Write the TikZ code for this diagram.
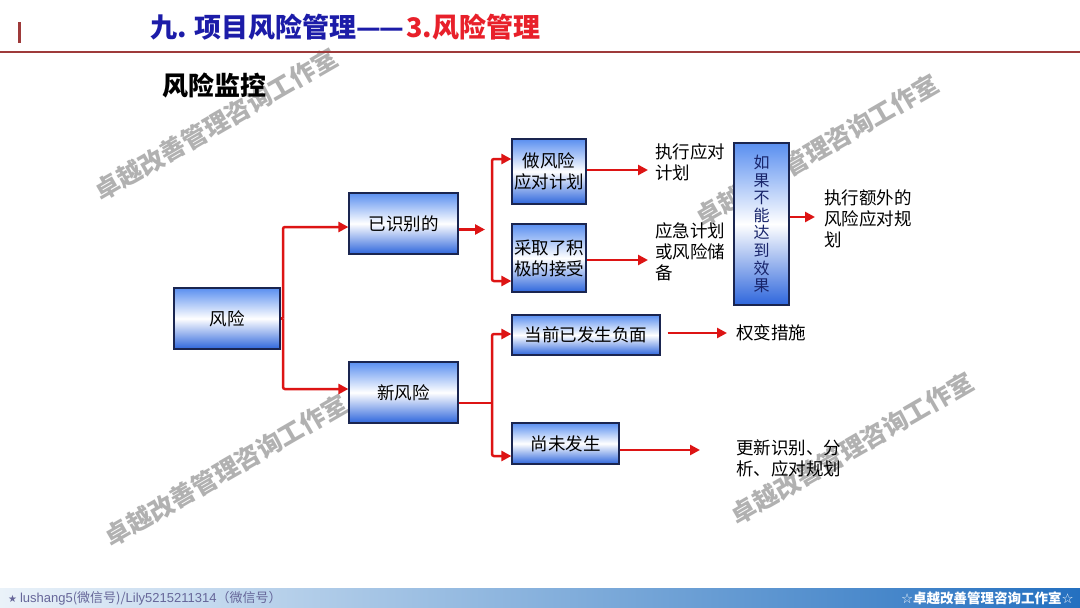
\documentclass[tikz,border=0pt]{standalone}
\usepackage{fontspec}
\setmainfont{Noto Sans CJK SC}
\newfontfamily\djv{DejaVu Sans}
\newfontfamily\lib{Liberation Sans}
\usetikzlibrary{arrows.meta}
\definecolor{tblue}{HTML}{1C1CA8}
\definecolor{tred}{HTML}{E8202A}
\definecolor{hdr}{HTML}{9E3A3A}
\definecolor{boxline}{HTML}{1A2550}
\definecolor{boxtop}{HTML}{5A8FF0}
\definecolor{boxbot}{HTML}{2E66DC}
\definecolor{arr}{HTML}{DD1414}
\definecolor{wm}{HTML}{A4A4A4}
\definecolor{footL}{HTML}{EAF2F9}
\definecolor{footR}{HTML}{2470C0}
\definecolor{navytext}{HTML}{18246A}
\tikzset{
  box/.style={draw=boxline, line width=1.2pt, top color=boxtop, bottom color=boxbot, middle color=white,
    font=\fontsize{17.5}{21}\selectfont, align=center, inner sep=0pt, text=black},
  plain/.style={font=\fontsize{17.5}{21}\selectfont, align=left, inner sep=0pt, anchor=west, text=black},
  rl/.style={draw=arr, line width=2.5pt, rounded corners=2pt},
  ar/.style={rl, -{Triangle[length=10pt,width=10pt]}},
  arb/.style={rl, {Triangle[length=10pt,width=10pt]}-{Triangle[length=10pt,width=10pt]}},
  wmark/.style={text=wm, font=\fontsize{25}{25}\bfseries, rotate=30, inner sep=0pt, opacity=0.85}
}
\begin{document}
\begin{tikzpicture}[x=1pt,y=-1pt]
\useasboundingbox (0,0) rectangle (1080,608);
\fill[white] (0,0) rectangle (1080,608);

% watermarks
\node[wmark] (w1) at (216,124) {卓越改善管理咨询工作室};
\node[wmark] (w2) at (817,150) {卓越改善管理咨询工作室};
\node[wmark] (w3) at (226,470) {卓越改善管理咨询工作室};
\node[wmark] (w4) at (852,448) {卓越改善管理咨询工作室};

% header
\fill[hdr] (18,22) rectangle (21,43);
\draw[hdr, line width=1.2pt] (0,52) -- (1080,52);
\node[anchor=west, inner sep=0pt, font=\fontsize{27}{30}\bfseries] (title) at (150,27)
  {\textcolor{tblue}{九. 项目风险管理—\kern-2pt—\kern2pt}\textcolor{tred}{3.风险管理}};
\node[anchor=west, inner sep=0pt, font=\fontsize{26}{30}\bfseries] (sub) at (162,86) {风险监控};

% boxes
\node[box, minimum width=106pt, minimum height=61pt] (fx) at (227,318.5) {风险};
\node[box, minimum width=109pt, minimum height=61pt] (ysb) at (403.5,223.5) {已识别的};
\node[box, minimum width=109pt, minimum height=61pt] (xfx) at (403.5,392.5) {新风险};
\node[box, minimum width=74pt, minimum height=65pt] (zfx) at (549,171.5) {做风险\\应对计划};
\node[box, minimum width=74pt, minimum height=68pt] (cq) at (549,258) {采取了积\\极的接受};
\node[box, minimum width=55pt, minimum height=162pt, text=navytext, font=\fontsize{16}{17.6}\selectfont] (rg) at (761.5,224)
  {如\\果\\不\\能\\达\\到\\效\\果};
\node[box, minimum width=148pt, minimum height=40pt] (dq) at (586,335) {当前已发生负面};
\node[box, minimum width=107pt, minimum height=41pt] (wf) at (565.5,443.5) {尚未发生};

% plain texts
\node[plain] (t1) at (655,162.5) {执行应对\\计划};
\node[plain] (t2) at (655,252) {应急计划\\或风险储\\备};
\node[plain] (t3) at (824,219) {执行额外的\\风险应对规\\划};
\node[plain] (t4) at (736,333) {权变措施};
\node[plain] (t5) at (736,458) {更新识别、分\\析、应对规划};

% connectors
\coordinate (j1) at (283,318.5);
\draw[rl] (fx.east) -- (j1);
\draw[ar] (j1) |- ([yshift=-3.5pt]ysb.west);
\draw[ar] (j1) |- ([yshift=3.5pt]xfx.west);

\coordinate (a1) at (485,229.5);
\draw[ar] (ysb.east |- a1) -- (a1);
\coordinate (j2t) at (492,159);
\coordinate (j2b) at (492,281);
\draw[arb] (zfx.west |- j2t) -- (j2t) -- (j2b) -- (cq.west |- j2b);

\coordinate (j3) at (492,403);
\coordinate (j3t) at (492,334);
\coordinate (j3b) at (492,456);
\draw[rl] (xfx.east |- j3) -- (j3);
\draw[arb] (dq.west |- j3t) -- (j3t) -- (j3b) -- (wf.west |- j3b);

\draw[ar, shorten >=7pt] ([yshift=1.5pt]zfx.east) -- ([yshift=1.5pt]zfx.east -| t1.west);
\draw[ar, shorten >=7pt] ([yshift=-2pt]cq.east) -- ([yshift=-2pt]cq.east -| t2.west);
\draw[ar, shorten >=9pt] ([yshift=7pt]rg.east) -- ([yshift=7pt]rg.east -| t3.west);
\draw[ar, shorten <=7pt, shorten >=9pt] ([yshift=2pt]dq.east) -- ([yshift=2pt]dq.east -| t4.west);
\draw[ar, shorten >=36pt] ([yshift=-6.5pt]wf.east) -- ([yshift=-6.5pt]wf.east -| t5.west);

% footer
\shade[left color=footL, right color=footR] (0,588) rectangle (1080,608);
\node[anchor=west, inner sep=0pt, text=gray!80!blue, font=\fontsize{13}{14}\selectfont] (fl) at (8,598)
  {{\djv\fontsize{10}{12}\selectfont ★} {\lib lushang5}(微信号)/{\lib Lily5215211314}（微信号）};
\node[anchor=east, inner sep=0pt, text=white, font=\fontsize{13.5}{14}\bfseries] (fr) at (1074,598)
  {{\djv ☆}卓越改善管理咨询工作室{\djv ☆}};
\end{tikzpicture}
\end{document}
